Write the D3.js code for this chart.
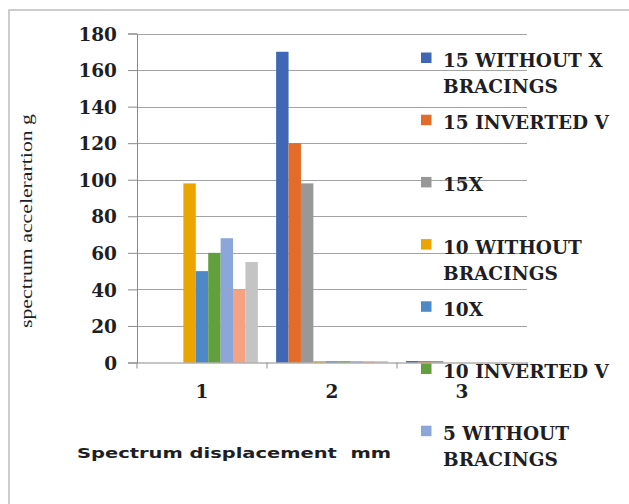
<!DOCTYPE html>
<html>
<head>
<meta charset="utf-8">
<script src="https://cdn.jsdelivr.net/npm/d3@7"></script>
<style>
  html, body { margin: 0; padding: 0; background: #fff; }
  svg { display: block; }
  text { white-space: pre; }
</style>
</head>
<body>
<svg id="chart" width="629" height="504"></svg>
<script>
// Spectrum acceleration per displacement bin, one series per frame model
const categories = ["1", "2", "3"];
const seriesNames = [
  "15 WITHOUT X BRACINGS",
  "15 INVERTED V",
  "15X",
  "10 WITHOUT BRACINGS",
  "10X",
  "10 INVERTED V",
  "5 WITHOUT BRACINGS",
  "5 INVERTED V",
  "5X"
];
const seriesColors = [
  "#3f67b6", "#e36c29", "#989898",
  "#eaa500", "#4c89c6", "#62a03e",
  "#8ca6da", "#f4a282", "#c4c4c4"
];
// values[i][j] = series i at displacement category j
const values = [
  [0, 170, 0.8],
  [0, 120, 0.8],
  [0, 98, 0.8],
  [98, 0.7, 0],
  [50, 0.7, 0],
  [60, 0.7, 0],
  [68, 0.7, 0],
  [40, 0.7, 0],
  [55, 0.7, 0]
];
const yTicks = [0, 20, 40, 60, 80, 100, 120, 140, 160, 180];
const legendCount = 7;   // entries that fit inside the frame

const svg = d3.select("#chart");
const W = 629, H = 504;
const plot = { left: 137, right: 527, top: 33.5, bottom: 362.5 };

// outer frame
svg.append("path")
  .attr("d", `M9,${H + 2}V10H${W + 2}`)
  .attr("fill", "none")
  .attr("stroke", "#bdbdbd")
  .attr("stroke-width", 1.5);

const y = d3.scaleLinear().domain([0, 180]).range([plot.bottom, plot.top]);
const x0 = d3.scaleBand().domain(categories).range([plot.left, plot.right]).paddingInner(0).paddingOuter(0);
const x1 = d3.scaleBand().domain(seriesNames).range([0, x0.bandwidth()]).paddingInner(0).paddingOuter(0.735);

const serifBold = "'DejaVu Serif', serif";
const ink = "#1e1e24";

// gridlines
svg.append("g")
  .selectAll("line")
  .data(yTicks.filter(t => t > 0))
  .join("line")
  .attr("x1", plot.left).attr("x2", plot.right)
  .attr("y1", d => Math.round(y(d)) + 0.5).attr("y2", d => Math.round(y(d)) + 0.5)
  .attr("stroke", "#a3a3a3").attr("stroke-width", 1);

// y axis
const yAxis = svg.append("g")
  .attr("transform", `translate(${plot.left},0)`)
  .call(d3.axisLeft(y).tickValues(yTicks).tickSize(9).tickPadding(11).tickFormat(d3.format("d")));
yAxis.select(".domain").attr("stroke", "#8a8a8a");
yAxis.selectAll(".tick line").attr("stroke", "#8a8a8a");
yAxis.selectAll(".tick text")
  .attr("font-family", serifBold)
  .attr("font-weight", "bold")
  .attr("font-size", 18.5)
  .attr("fill", ink)
  .attr("dy", "0.36em");

// bars
const groups = svg.append("g")
  .selectAll("g")
  .data(seriesNames)
  .join("g")
  .attr("fill", (d, i) => seriesColors[i]);

groups.selectAll("rect")
  .data((name, i) => categories.map((c, j) => ({ name, cat: c, v: values[i][j] })))
  .join("rect")
  .attr("x", d => x0(d.cat) + x1(d.name))
  .attr("width", x1.bandwidth())
  .attr("y", d => y(d.v))
  .attr("height", d => y(0) - y(d.v));

// x axis
const xAxis = svg.append("g")
  .attr("transform", `translate(0,${plot.bottom})`)
  .call(d3.axisBottom(x0).tickSize(0).tickPadding(22));
xAxis.select(".domain").attr("stroke", "#8a8a8a");
xAxis.selectAll(".tick text")
  .attr("font-family", serifBold)
  .attr("font-weight", "bold")
  .attr("font-size", 18.5)
  .attr("fill", ink);
// boundary ticks between categories
svg.append("g")
  .selectAll("line")
  .data(categories.concat(["end"]))
  .join("line")
  .attr("x1", (d, i) => i < categories.length ? x0(d) : plot.right)
  .attr("x2", (d, i) => i < categories.length ? x0(d) : plot.right)
  .attr("y1", plot.bottom).attr("y2", plot.bottom + 6)
  .attr("stroke", "#8a8a8a");

// axis titles
svg.append("text")
  .attr("transform", "translate(32,221) rotate(-90)")
  .attr("text-anchor", "middle")
  .attr("font-family", "'Liberation Serif', serif")
  .attr("font-size", 17.5)
  .attr("fill", ink)
  .attr("textLength", 214)
  .attr("lengthAdjust", "spacingAndGlyphs")
  .text("spectrum accelerartion g");

svg.append("text")
  .attr("x", 77).attr("y", 458)
  .attr("font-family", "'DejaVu Sans', sans-serif")
  .attr("font-weight", "bold")
  .attr("font-size", 14)
  .attr("fill", ink)
  .attr("textLength", 314)
  .attr("lengthAdjust", "spacingAndGlyphs")
  .text("Spectrum displacement  mm");

// legend
const legend = svg.append("g");
const legendTop = 67, legendStep = 62.2, lineGap = 26, maxW = 176;
seriesNames.slice(0, legendCount).forEach((name, i) => {
  const by = legendTop + i * legendStep;
  const item = legend.append("g");
  item.append("rect")
    .attr("x", 421).attr("y", by - 14.5)
    .attr("width", 10.5).attr("height", 10.5)
    .attr("fill", seriesColors[i]);
  const t = item.append("text")
    .attr("x", 443).attr("y", by)
    .attr("font-family", serifBold)
    .attr("font-weight", "bold")
    .attr("font-size", 18.5)
    .attr("fill", ink);
  // wrap words onto a second line when too wide
  const words = name.split(" ");
  let line = [], lineNo = 0;
  let tspan = t.append("tspan").attr("x", 443).attr("y", by);
  words.forEach(w => {
    line.push(w);
    tspan.text(line.join(" "));
    if (tspan.node().getComputedTextLength() > maxW && line.length > 1) {
      line.pop();
      tspan.text(line.join(" "));
      line = [w];
      lineNo++;
      tspan = t.append("tspan").attr("x", 443).attr("y", by + lineNo * lineGap).text(w);
    }
  });
});
</script>
</body>
</html>
